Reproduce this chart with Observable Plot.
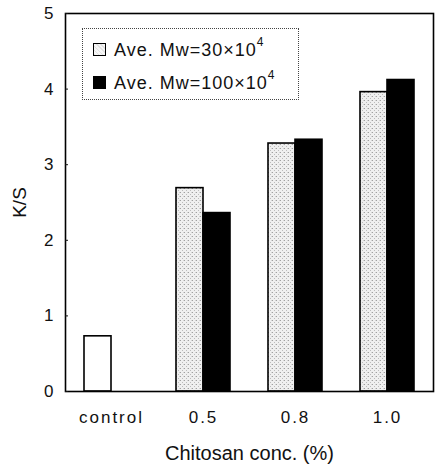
<!DOCTYPE html>
<html>
<head>
<meta charset="utf-8">
<script src="https://cdn.jsdelivr.net/npm/d3@7"></script>
<script src="https://cdn.jsdelivr.net/npm/@observablehq/plot@0.6"></script>
<style>
  html, body { margin: 0; padding: 0; background: #fff; }
  #wrap { position: relative; width: 436px; height: 464px; font-family: "Liberation Sans", Arial, sans-serif; }
  #legend { position: absolute; left: 82px; top: 28px; width: 217px; height: 72px; border: 1px dotted #444; box-sizing: border-box; }
  .item { position: absolute; left: 10px; display: flex; align-items: center; font-size: 18px; letter-spacing: 1px; color: #111; }
  .item sup { font-size: 12px; position: relative; top: -3px; }
  .sw { width: 13px; height: 13px; box-sizing: border-box; border: 1.5px solid #000; margin-right: 8px; }
  g[aria-label="fx-axis tick label"] text { letter-spacing: 2px; }
</style>
</head>
<body>
<div id="wrap"></div>
<script>
const categories = ["control", "0.5", "0.8", "1.0"];
const seriesBase = ["Ave. Mw=30×10", "Ave. Mw=100×10"];
const seriesExp = ["4", "4"];
const controlValue = [0.73];
const mw30 = [null, 2.69, 3.28, 3.96];
const mw100 = [null, 2.36, 3.33, 4.12];
const yTicks = [0, 1, 2, 3, 4, 5];

const rows = [{cat: categories[0], slot: "a", kind: "control", v: controlValue[0]}];
categories.forEach((c, i) => {
  if (mw30[i] != null) rows.push({cat: c, slot: "a", kind: "mw30", v: mw30[i]});
  if (mw100[i] != null) rows.push({cat: c, slot: "b", kind: "mw100", v: mw100[i]});
});

const font = "'Liberation Sans', Arial, sans-serif";

const chart = Plot.plot({
  width: 436,
  height: 464,
  marginLeft: 65,
  marginRight: 3,
  marginTop: 13,
  marginBottom: 73,
  style: {fontFamily: font, color: "#111", background: "white"},
  fx: {domain: categories, padding: 0},
  x: {domain: ["a", "b"], paddingInner: 0, paddingOuter: 0.7, axis: null},
  y: {domain: [0, 5]},
  color: {domain: ["control", "mw30", "mw100"], range: ["white", "url(#stip)", "black"]},
  marks: [
    Plot.barY(rows, {fx: "cat", x: "slot", y: "v", fill: "kind", stroke: "black", strokeWidth: 1.6}),
    Plot.frame({facet: "super", stroke: "black", strokeWidth: 1.6}),
    Plot.axisY(yTicks, {tickSize: -3, tickPadding: 15, fontSize: 17, tickFormat: d => String(d), label: null}),
    Plot.axisY(yTicks, {tickSize: 0, tickFormat: () => "", fontSize: 19, label: "K/S", labelAnchor: "center", labelArrow: "none", labelOffset: 53}),
    Plot.axisFx({anchor: "bottom", tickSize: 0, tickPadding: 19, fontSize: 17, label: null}),
    Plot.axisFx({anchor: "bottom", tickSize: 0, tickFormat: () => "", fontSize: 20, label: "Chitosan conc. (%)", labelAnchor: "center", labelOffset: 68})
  ]
});

const svg = chart.tagName.toLowerCase() === "svg" ? chart : chart.querySelector("svg");
const ns = "http://www.w3.org/2000/svg";
const defs = document.createElementNS(ns, "defs");
defs.innerHTML = `<pattern id="stip" width="4" height="4" patternUnits="userSpaceOnUse">
  <rect width="4" height="4" fill="#efefef"/>
  <rect x="0" y="0" width="1" height="1" fill="#a0a0a0"/>
  <rect x="2" y="2" width="1" height="1" fill="#bbbbbb"/>
  <rect x="3" y="0" width="1" height="1" fill="#d4d4d4"/>
</pattern>`;
svg.insertBefore(defs, svg.firstChild);

const wrap = document.getElementById("wrap");
wrap.appendChild(chart);

const legend = document.createElement("div");
legend.id = "legend";
const swBg = ["repeating-linear-gradient(45deg,#e2e2e2 0 1px,#f6f6f6 1px 3px)", "#000"];
seriesBase.forEach((name, i) => {
  const item = document.createElement("div");
  item.className = "item";
  item.style.top = (i === 0 ? 9 : 42) + "px";
  const sw = document.createElement("div");
  sw.className = "sw";
  sw.style.background = swBg[i];
  const t = document.createElement("span");
  t.textContent = name;
  const sup = document.createElement("sup");
  sup.textContent = seriesExp[i];
  t.appendChild(sup);
  item.appendChild(sw);
  item.appendChild(t);
  legend.appendChild(item);
});
wrap.appendChild(legend);
</script>
</body>
</html>
